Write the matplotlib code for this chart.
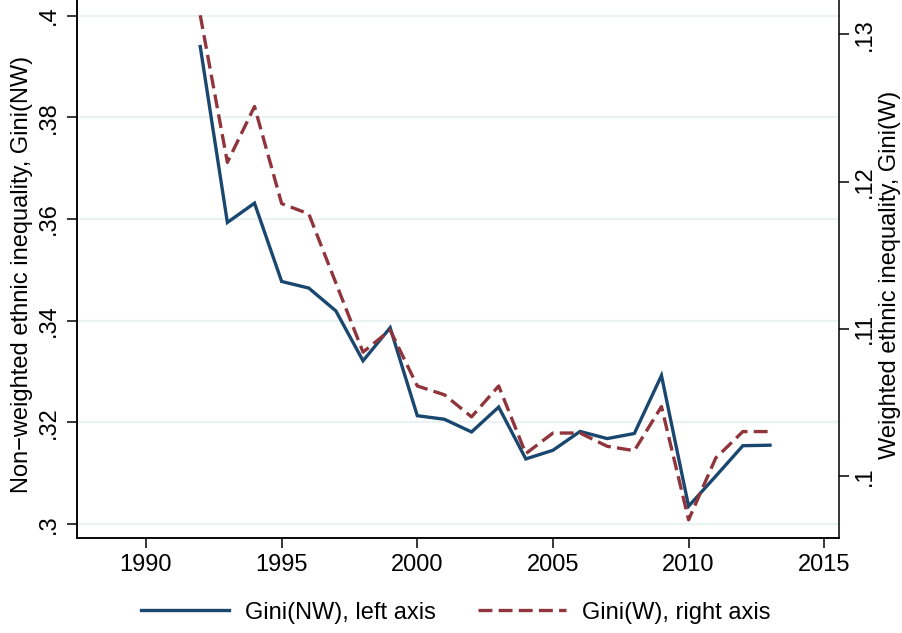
import matplotlib.pyplot as plt

plt.rcParams['font.family'] = ['Liberation Sans', 'DejaVu Sans']
plt.rcParams['font.size'] = 17
plt.rcParams['lines.scale_dashes'] = False

# data
years = list(range(1992, 2014))
gini_nw = [0.3939, 0.3593, 0.3631, 0.3477, 0.3464, 0.3419, 0.3321, 0.3386,
           0.3213, 0.3206, 0.3181, 0.3230, 0.3128, 0.3145, 0.3182, 0.3168,
           0.3178, 0.3292, 0.3035, 0.3094, 0.3154, 0.3155]
gini_w = [0.1313, 0.1213, 0.1251, 0.1185, 0.1178, 0.1131, 0.1084, 0.1099,
          0.1061, 0.1055, 0.1040, 0.1061, 0.1015, 0.1029, 0.1029, 0.1020,
          0.1017, 0.1047, 0.0970, 0.1012, 0.1030, 0.1030]

x_ticks = [1990, 1995, 2000, 2005, 2010, 2015]
left_ticks = [0.30, 0.32, 0.34, 0.36, 0.38, 0.40]
left_labels = ['.3', '.32', '.34', '.36', '.38', '.4']
right_ticks = [0.10, 0.11, 0.12, 0.13]
right_labels = ['.1', '.11', '.12', '.13']

navy = '#1a476f'
maroon = '#90353b'
grid_col = '#eaf2f3'

W, H = 902, 633
fig = plt.figure(figsize=(W / 100, H / 100), dpi=100)
left, right, bottom = 76.7, 839.3, 538.3
ax = fig.add_axes([left / W, (H - bottom) / H, (right - left) / W, bottom / H])
ax2 = ax.twinx()

ax.plot(years, gini_nw, color=navy, lw=2.4, solid_joinstyle='miter',
        label='Gini(NW), left axis')
ax2.plot(years, gini_w, color=maroon, lw=2.4, dashes=(10, 4.5),
         label='Gini(W), right axis')

ax.set_xlim(1987.446, 2015.555)
ax.set_ylim(0.29719, 0.40305)
ax2.set_ylim(0.095744, 0.13234)

ax.set_xticks(x_ticks)
ax.set_yticks(left_ticks)
ax.set_yticklabels(left_labels)
ax2.set_yticks(right_ticks)
ax2.set_yticklabels(right_labels)

ax.grid(axis='y', color=grid_col, lw=1.6, zorder=0)
ax.set_axisbelow(True)

for a in (ax, ax2):
    a.spines['top'].set_visible(False)
    for s in a.spines.values():
        s.set_linewidth(1.1)
ax.spines['right'].set_visible(False)

ax.tick_params(axis='x', length=7, width=1.1, pad=4)
ax.tick_params(axis='y', length=7, width=1.1, pad=5, labelrotation=90)
ax2.tick_params(axis='y', length=7, width=1.1, pad=3.5, labelrotation=90)
for t in ax.get_yticklabels() + ax2.get_yticklabels():
    t.set_verticalalignment('center')

ax.set_ylabel('Non\u2212weighted ethnic inequality, Gini(NW)')
ax.yaxis.set_label_coords((33.3 - left) / (right - left), 0.49)
ax2.set_ylabel('Weighted ethnic inequality, Gini(W)')
ax2.yaxis.set_label_coords((879.0 - left) / (right - left), 0.49)

h1, l1 = ax.get_legend_handles_labels()
h2, l2 = ax2.get_legend_handles_labels()
fig.legend(h1 + h2, l1 + l2, loc='center', ncol=2, frameon=False,
           bbox_to_anchor=(455.5 / W, 1 - 612.7 / H),
           handlelength=3.73, handletextpad=0.68, columnspacing=1.78)

fig.savefig('out.png', dpi=100)
